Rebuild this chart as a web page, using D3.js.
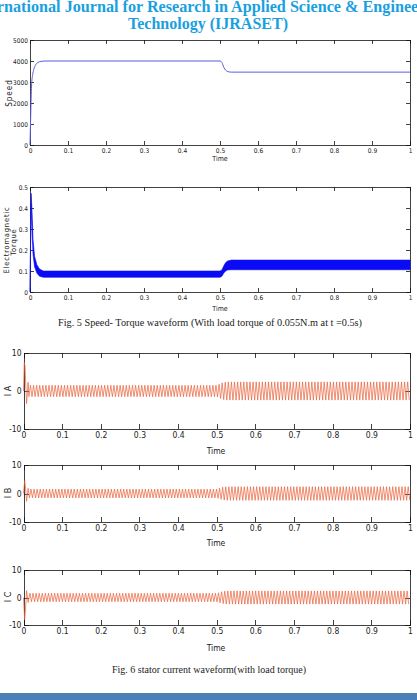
<!DOCTYPE html>
<html><head><meta charset="utf-8">
<script src="https://cdn.jsdelivr.net/npm/d3@7"></script>
<style>
html,body{margin:0;padding:0;background:#fff;}
svg{display:block;}
.ax text{font-family:"Liberation Sans Narrow","Arial Narrow","DejaVu Sans Condensed",sans-serif;font-stretch:condensed;fill:#222;}
.ax path,.ax line{stroke:#111;stroke-width:0.8;shape-rendering:crispEdges;}
.lab{font-family:"Liberation Sans Narrow","DejaVu Sans Condensed",sans-serif;font-stretch:condensed;fill:#222;}
</style></head>
<body><svg id="c" width="417" height="700"></svg>
<script>
// ---- data ----
const timeTicks = [0,0.1,0.2,0.3,0.4,0.5,0.6,0.7,0.8,0.9,1];
const timeTickLabels = ["0","0.1","0.2","0.3","0.4","0.5","0.6","0.7","0.8","0.9","1"];
const speedTicks = [0,1000,2000,3000,4000,5000];
const torqueTicks = [0,0.1,0.2,0.3,0.4,0.5];
const torqueTickLabels = ["0","0.1","0.2","0.3","0.4","0.5"];
const currentTicks = [-10,0,10];

const speedT = [0,0.002,0.004,0.007,0.01,0.015,0.02,0.03,0.04,0.5,0.505,0.51,0.515,0.52,0.53,1];
const speedV = [0,1500,2800,3350,3600,3820,3920,3985,4000,4000,3930,3700,3560,3500,3470,3470];

const torqueT =     [0,0.002,0.003,0.005,0.008,0.012,0.018,0.025,0.035,0.5,0.505,0.51,0.515,0.52,0.53,1];
const torqueUpper = [0,0.35,0.47,0.40,0.25,0.17,0.13,0.11,0.10,0.10,0.105,0.125,0.14,0.148,0.152,0.152];
const torqueLower = [0,0.30,0.42,0.30,0.18,0.12,0.09,0.075,0.07,0.07,0.075,0.09,0.10,0.105,0.106,0.106];

// stator currents: start-up transient points, then half-cycle peak envelope
const currentFreq = 125;           // cycles per second of the ripple
const iaTransT = [0,0.002,0.004,0.008,0.012];
const iaTransV = [0,7.5,6.5,-3.3,2.3];
const ibTransT = [0,0.003,0.005,0.008,0.012];
const ibTransV = [0,4.5,2.5,-2.7,1.8];
const icTransT = [0,0.003,0.005,0.008,0.012];
const icTransV = [0,-8,-5,2.5,-1.8];
const envT  = [0.012,0.5,0.505,0.515,0.525,1];
const iaEnv = [1.5,1.5,1.7,2.2,2.4,2.4];
const ibEnv = [1.55,1.55,1.75,2.2,2.4,2.4];
const icEnv = [1.55,1.55,1.75,2.2,2.4,2.4];

// ---- drawing ----
const svg = d3.select("#c");

// header
svg.append("text").attr("x",208).attr("y",12).attr("text-anchor","middle")
  .attr("font-family","Liberation Serif, serif").attr("font-weight","bold").attr("font-size",16)
  .attr("fill","#1a9fe0").attr("textLength",478).attr("lengthAdjust","spacingAndGlyphs")
  .text("International Journal for Research in Applied Science & Engineering");
svg.append("text").attr("x",208).attr("y",29).attr("text-anchor","middle")
  .attr("font-family","Liberation Serif, serif").attr("font-weight","bold").attr("font-size",16)
  .attr("fill","#1a9fe0").attr("textLength",160).attr("lengthAdjust","spacingAndGlyphs")
  .text("Technology (IJRASET)");

function frame(box, yDomain, yTicks, yLabels, fs, tick){
  const x = d3.scaleLinear().domain([0,1]).range([box.l, box.r]);
  const y = d3.scaleLinear().domain(yDomain).range([box.b, box.t]);
  const g = svg.append("g");
  const bx = g.append("g").attr("class","ax").attr("transform",`translate(0,${box.b})`)
    .call(d3.axisBottom(x).tickValues(timeTicks).tickFormat((d,i)=>timeTickLabels[i])
      .tickSizeInner(-tick).tickSizeOuter(0).tickPadding(3));
  bx.selectAll("text").attr("font-size",fs);
  g.append("g").attr("class","ax").attr("transform",`translate(0,${box.t})`)
    .call(d3.axisTop(x).tickValues(timeTicks).tickFormat("").tickSizeInner(-tick).tickSizeOuter(0));
  const ly = g.append("g").attr("class","ax").attr("transform",`translate(${box.l},0)`)
    .call(d3.axisLeft(y).tickValues(yTicks).tickFormat((d,i)=>yLabels[i])
      .tickSizeInner(-tick).tickSizeOuter(0).tickPadding(2));
  ly.selectAll("text").attr("font-size",fs);
  g.append("g").attr("class","ax").attr("transform",`translate(${box.r},0)`)
    .call(d3.axisRight(y).tickValues(yTicks).tickFormat("").tickSizeInner(-tick).tickSizeOuter(0));
  return {x,y,g};
}

// Chart 1: speed
const b1 = {l:30,r:410,t:40,b:145};
const c1 = frame(b1,[0,5000],speedTicks,speedTicks.map(String),6.5,4);
svg.append("path").datum(speedT.map((t,i)=>[t,speedV[i]]))
  .attr("d",d3.line().curve(d3.curveMonotoneX).x(d=>c1.x(d[0])).y(d=>c1.y(d[1])))
  .attr("fill","none").attr("stroke","#5a5ae0").attr("stroke-width",1);
svg.append("text").attr("class","lab").attr("font-size",8).attr("letter-spacing",1)
  .attr("text-anchor","middle").attr("transform","translate(12,93) rotate(-90)").text("Speed");
svg.append("text").attr("class","lab").attr("font-size",7).attr("text-anchor","middle")
  .attr("x",220).attr("y",161).text("Time");

// Chart 2: torque
const b2 = {l:30,r:410,t:187,b:292};
const c2 = frame(b2,[0,0.5],torqueTicks,torqueTickLabels,6.5,4);
svg.append("path").datum(torqueT.map((t,i)=>[t,torqueLower[i],torqueUpper[i]]))
  .attr("d",d3.area().x(d=>c2.x(d[0])).y0(d=>c2.y(d[1])).y1(d=>c2.y(d[2])))
  .attr("fill","#0a0af5").attr("stroke","#0a0af5").attr("stroke-width",0.6);
svg.append("text").attr("class","lab").attr("font-size",7.5).attr("letter-spacing",0.8)
  .attr("text-anchor","middle").attr("transform","translate(9,240) rotate(-90)").text("Electromagnetic");
svg.append("text").attr("class","lab").attr("font-size",7.5).attr("letter-spacing",0.8)
  .attr("text-anchor","middle").attr("transform","translate(16,242) rotate(-90)").text("Torque");
svg.append("text").attr("class","lab").attr("font-size",7).attr("text-anchor","middle")
  .attr("x",220).attr("y",311).text("Time");

svg.append("text").attr("x",210).attr("y",326).attr("text-anchor","middle")
  .attr("font-family","Liberation Serif, serif").attr("font-size",10).attr("fill","#222")
  .attr("textLength",304).attr("lengthAdjust","spacingAndGlyphs")
  .text("Fig. 5 Speed- Torque waveform (With load torque of 0.055N.m at t =0.5s)");

// Current charts
function currentSeries(transT, transV, env, phase){
  const amp = d3.scaleLinear().domain(envT).range(env);
  const pts = transT.map((t,i)=>[t,transV[i]]);
  const half = 0.5/currentFreq;
  let sign = transV[transV.length-1] > 0 ? -1 : 1;
  for(let t = transT[transT.length-1] + half*(0.5+phase); t <= 1; t += half){
    pts.push([t, sign*amp(t)]); sign = -sign;
  }
  return pts;
}
const boxes = [
  {l:23.5,r:410,t:353,b:429, name:"I A", tt:iaTransT, tv:iaTransV, env:iaEnv, ph:0, ly:391, ty:454},
  {l:23.5,r:410,t:465,b:522, name:"I B", tt:ibTransT, tv:ibTransV, env:ibEnv, ph:0.33, ly:493, ty:546},
  {l:23.5,r:410,t:570,b:625, name:"I C", tt:icTransT, tv:icTransV, env:icEnv, ph:0.66, ly:597, ty:651}
];
boxes.forEach(bx=>{
  const c = frame(bx,[-10,10],currentTicks,currentTicks.map(String),8.5,5);
  svg.append("path").datum(currentSeries(bx.tt,bx.tv,bx.env,bx.ph))
    .attr("d",d3.line().x(d=>c.x(d[0])).y(d=>c.y(d[1])))
    .attr("fill","none").attr("stroke","#e8603a").attr("stroke-width",0.7);
  svg.append("text").attr("class","lab").attr("font-size",9).attr("text-anchor","middle")
    .attr("transform",`translate(11,${bx.ly}) rotate(-90)`).text(bx.name);
  svg.append("text").attr("class","lab").attr("font-size",8.5).attr("text-anchor","middle")
    .attr("x",216).attr("y",bx.ty).text("Time");
});

svg.append("text").attr("x",209).attr("y",673).attr("text-anchor","middle")
  .attr("font-family","Liberation Serif, serif").attr("font-size",9.5).attr("fill","#222")
  .attr("textLength",194).attr("lengthAdjust","spacingAndGlyphs")
  .text("Fig. 6 stator current waveform(with load torque)");

// bottom bar
svg.append("rect").attr("x",0).attr("y",693).attr("width",417).attr("height",7).attr("fill","#4a7fb8");
</script></body></html>
